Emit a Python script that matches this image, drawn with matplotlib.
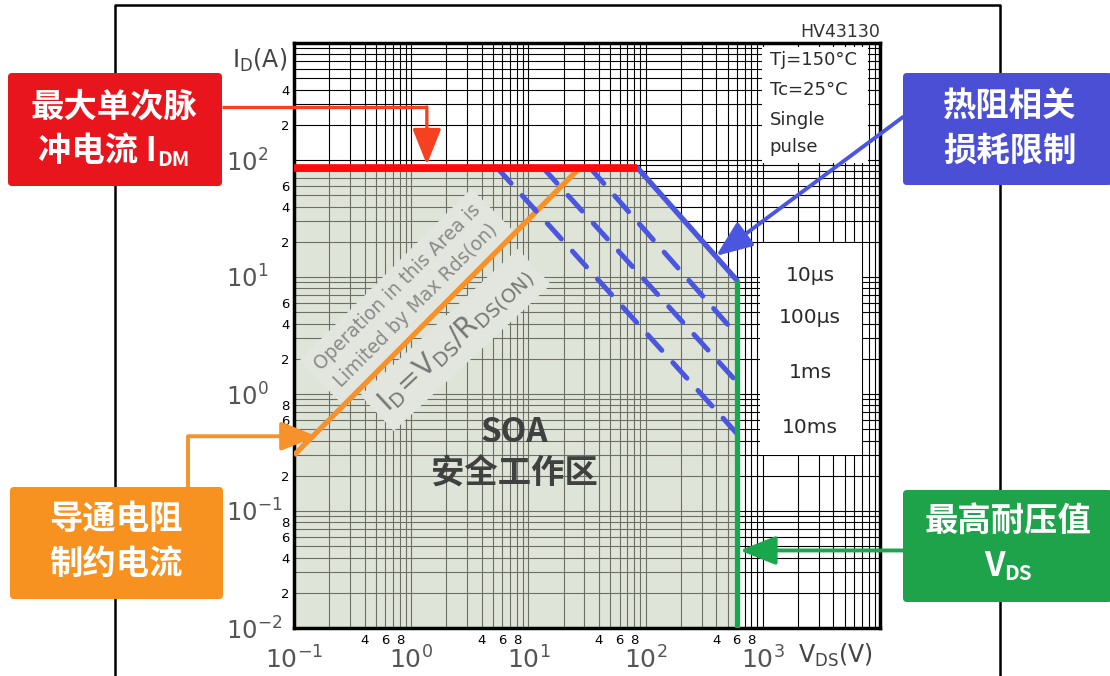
import numpy as np
import matplotlib
matplotlib.use('Agg')
import matplotlib.pyplot as plt
from matplotlib.patches import Polygon, Rectangle, FancyBboxPatch, FancyArrowPatch

W, H = 1110, 676
CJK = ['Noto Sans CJK SC', 'DejaVu Sans']

# axis ranges
vds_lim = [0.1, 1e4]
id_lim = [0.01, 1e3]

# device limits
idm = 86        # max single pulse drain current (A)
vds_max = 600   # max drain-source voltage (V)

# Rds(on) limited region
rds_vds = [0.1, 27.5]
rds_id = [0.3, idm]

# constant power lines per pulse width: start on Idm, end on Vds max
pulse_labels = ['10µs', '100µs', '1ms', '10ms']
pulse_vds_start = [85, 33.5, 13.3, 5.4]
pulse_id_end = [9.4, 3.2, 1.27, 0.46]

# tick labels
x_major = [0.1, 1, 10, 100, 1000]
x_major_labels = [r'$\mathregular{10^{-1}}$', r'$\mathregular{10^{0}}$', r'$\mathregular{10^{1}}$',
                  r'$\mathregular{10^{2}}$', r'$\mathregular{10^{3}}$']
x_minor_shown = [4, 6, 8]
y_major = [0.01, 0.1, 1, 10, 100]
y_major_labels = [r'$\mathregular{10^{-2}}$', r'$\mathregular{10^{-1}}$', r'$\mathregular{10^{0}}$',
                  r'$\mathregular{10^{1}}$', r'$\mathregular{10^{2}}$']
y_minor_shown = {0.01: [2, 4, 6, 8], 0.1: [2, 4, 6, 8], 1: [2, 4, 6], 10: [2, 4, 6], 100: [2, 4]}

plt.rcParams['font.family'] = ['DejaVu Sans', 'Noto Sans CJK SC']
fig = plt.figure(figsize=(W / 100, H / 100), dpi=100)
fig.patch.set_facecolor('white')

# main SOA axes
L, R, T, B = 294, 880, 43, 628
ax = fig.add_axes([L / W, (H - B) / H, (R - L) / W, (B - T) / H])
ax.set_xscale('log')
ax.set_yscale('log')
ax.set_xlim(vds_lim)
ax.set_ylim(id_lim)
ax.set_axisbelow(True)

# grid ticks: every 1..9 per decade
xdec = [0.1, 1, 10, 100, 1000]
xmin_ticks, xmin_labels = [], []
for d in xdec:
    for m in range(2, 10):
        xmin_ticks.append(m * d)
        xmin_labels.append(str(m) if (m in x_minor_shown and d < 1000) else '')
ydec = [0.01, 0.1, 1, 10, 100]
ymin_ticks, ymin_labels = [], []
for d in ydec:
    for m in range(2, 10):
        ymin_ticks.append(m * d)
        ymin_labels.append(str(m) if m in y_minor_shown[d] else '')

ax.set_xticks(x_major + [1e4], x_major_labels + [''])
ax.set_xticks(xmin_ticks, xmin_labels, minor=True)
ax.set_yticks(y_major + [1e3], y_major_labels + [''])
ax.set_yticks(ymin_ticks, ymin_labels, minor=True)
ax.tick_params(which='both', length=0)
ax.tick_params(axis='x', which='major', labelsize=18, labelcolor='#555555', pad=13)
ax.tick_params(axis='x', which='minor', labelsize=9.5, pad=4)
ax.tick_params(axis='y', which='major', labelsize=17.5, labelcolor='#555555', pad=49)
ax.tick_params(axis='y', which='minor', labelsize=9.5, pad=3)
for t in ax.get_yticklabels():
    t.set_horizontalalignment('left')
ax.grid(True, which='both', color='black', lw=0.8)
for s in ax.spines.values():
    s.set_linewidth(2.5)
    s.set_color('black')

# shaded safe operating area
sx = [vds_lim[0], vds_lim[0], pulse_vds_start[0], vds_max, vds_max]
sy = [id_lim[0], idm, idm, pulse_id_end[0], id_lim[0]]
ax.add_patch(Polygon(list(zip(sx, sy)), closed=True, fc='#c6ceb8', ec='none',
                     alpha=0.55, zorder=1))

# white label panels
ax.add_patch(Rectangle((0.799, 0.795), 0.181, 0.198, transform=ax.transAxes,
                       fc='white', ec='none', zorder=1.5))
ax.add_patch(Rectangle((0.795, 0.296), 0.174, 0.362, transform=ax.transAxes,
                       fc='white', ec='none', zorder=1.5))

# limit lines
ax.plot([vds_lim[0], pulse_vds_start[0]], [idm, idm], color='#ff0a0a', lw=5.5,
        solid_capstyle='butt', zorder=4)
ax.plot(rds_vds, rds_id, color='#f7922a', lw=3.8, solid_capstyle='butt', zorder=3)
ax.plot([pulse_vds_start[0], vds_max], [idm, pulse_id_end[0]], color='#4a55e0',
        lw=3.8, solid_capstyle='round', zorder=3)
for v0, i1 in zip(pulse_vds_start[1:], pulse_id_end[1:]):
    ax.plot([v0, vds_max], [idm, i1], color='#4a55e0', lw=3.6,
            dashes=(4.2, 3.3), dash_capstyle='round', zorder=3)
ax.plot([vds_max, vds_max], [id_lim[0], pulse_id_end[0]], color='#16a84c', lw=3.8,
        solid_capstyle='butt', zorder=3)

# text on the chart
ax.text(0.92, 6.8, 'Operation in this Area is\nLimited by Max Rds(on)', rotation=45,
        rotation_mode='anchor', ha='center', va='center', fontsize=13.5, color='#8a8a8a',
        linespacing=1.45, zorder=2,
        bbox=dict(boxstyle='square,pad=0.45', fc='#e3e6de', ec='none'))
ax.text(2.4, 2.9, r'$\mathregular{I_D\!=\!V_{DS}/R_{DS(ON)}}$', rotation=43,
        rotation_mode='anchor', ha='center', va='center', fontsize=20, color='#777777',
        zorder=2, bbox=dict(boxstyle='square,pad=0.3', fc='#e3e6de', ec='none'))
ax.text(0.377, 0.335, 'SOA', transform=ax.transAxes, ha='center', va='center',
        fontsize=24, fontweight='bold', color='#404040', family=CJK, zorder=5)
ax.text(0.377, 0.263, '安全工作区', transform=ax.transAxes, ha='center', va='center',
        fontsize=24, fontweight='bold', color='#404040', family=CJK, zorder=5)

for lab, yf in zip(['Tj=150°C', 'Tc=25°C', 'Single', 'pulse'], [0.971, 0.920, 0.868, 0.822]):
    ax.text(0.812, yf, lab, transform=ax.transAxes, ha='left', va='center',
            fontsize=13, color='#2a2a2a', zorder=5)
for lab, yf in zip(pulse_labels, [0.602, 0.530, 0.436, 0.342]):
    ax.text(0.881, yf, lab, transform=ax.transAxes, ha='center', va='center',
            fontsize=14.5, color='#2a2a2a', zorder=5)

ax.text(1.0, 1.004, 'HV43130', transform=ax.transAxes, ha='right', va='bottom',
        fontsize=12.5, color='#333333')
ax.text(-0.105, 0.97, r'$\mathregular{I_D(A)}$', transform=ax.transAxes, ha='left',
        va='center', fontsize=17, color='#444444')
ax.text(0.86, -0.047, r'$\mathregular{V_{DS}(V)}$', transform=ax.transAxes, ha='left',
        va='center', fontsize=17, color='#444444')


# overlay in pixel coordinates for frame and callouts
ov = fig.add_axes([0, 0, 1, 1])
ov.set_xlim(0, W)
ov.set_ylim(H, 0)
ov.axis('off')


def to_px(x, y):
    dx, dy = ax.transData.transform((x, y))
    return dx, H - dy


ov.plot([115, 115, 1000, 1000], [H, 5, 5, H], color='black', lw=1.8, zorder=1)


def box(x0, y0, x1, y1, color):
    ov.add_patch(FancyBboxPatch((x0, y0), x1 - x0, y1 - y0,
                                boxstyle='round,pad=0,rounding_size=4',
                                fc=color, ec='none', zorder=5))


def connector(points, color, lw=2.4):
    xs, ys = zip(*points[:-1])
    ov.plot(xs, ys, color=color, lw=lw, solid_capstyle='butt', zorder=4)
    ov.add_patch(FancyArrowPatch(points[-2], points[-1], shrinkA=0, shrinkB=0,
                                 arrowstyle='-|>,head_length=1.05,head_width=0.42',
                                 mutation_scale=21, color=color, lw=lw, zorder=4))


def sub_line(xc, yc, main, sub, size):
    r = fig.canvas.get_renderer()
    t = ov.text(0, yc, main, ha='left', va='center', fontsize=size, fontweight='bold',
                color='white', family=CJK, zorder=6)
    s = ov.text(0, yc + 8, sub, ha='left', va='center', fontsize=size * 0.62,
                fontweight='bold', color='white', family=CJK, zorder=6)
    wt = t.get_window_extent(r).width
    ws = s.get_window_extent(r).width
    x0 = xc - (wt + ws) / 2
    t.set_x(x0)
    s.set_x(x0 + wt)


# Idm callout
box(8, 73, 222, 186, '#e8161c')
ov.text(114, 107, '最大单次脉', ha='center', va='center', fontsize=24, fontweight='bold',
        color='white', family=CJK, zorder=6)
sub_line(114, 151, '冲电流 I', 'DM', 24)
tip = to_px(1.36, idm)
connector([(222, 107), (tip[0], 107), (tip[0], tip[1] - 3)], '#f5411f')

# thermal limit callout
box(903, 73, 1112, 185, '#4a4fd6')
ov.text(1010, 129, '热阻相关\n损耗限制', ha='center', va='center', fontsize=24,
        fontweight='bold', color='white', family=CJK, linespacing=1.45, zorder=6)
v_tip = 415
i_tip = idm * (v_tip / pulse_vds_start[0]) ** (np.log(pulse_id_end[0] / idm) /
                                                np.log(vds_max / pulse_vds_start[0]))
tip = to_px(v_tip, i_tip)
connector([(903, 117), (tip[0] - 2, tip[1] - 3)], '#4a55e0', lw=2.8)

# Rds(on) callout
box(10, 487, 223, 599, '#f7911f')
ov.text(116, 542, '导通电阻\n制约电流', ha='center', va='center', fontsize=24,
        fontweight='bold', color='white', family=CJK, linespacing=1.45, zorder=6)
tip = to_px(0.157, 0.157 * rds_id[0] / rds_vds[0])
connector([(188, 487), (188, tip[1] + 4), (tip[0], tip[1] + 4)], '#f7922a', lw=2.8)

# Vds max callout
box(903, 490, 1112, 602, '#1ea34a')
ov.text(1008, 522, '最高耐压值', ha='center', va='center', fontsize=24,
        fontweight='bold', color='white', family=CJK, zorder=6)
sub_line(1008, 566, 'V', 'DS', 24)
tip = to_px(vds_max, 0.046)
connector([(903, tip[1]), (tip[0] + 3, tip[1])], '#1aa64b', lw=2.8)

fig.savefig('out.png', dpi=100, facecolor='white')
